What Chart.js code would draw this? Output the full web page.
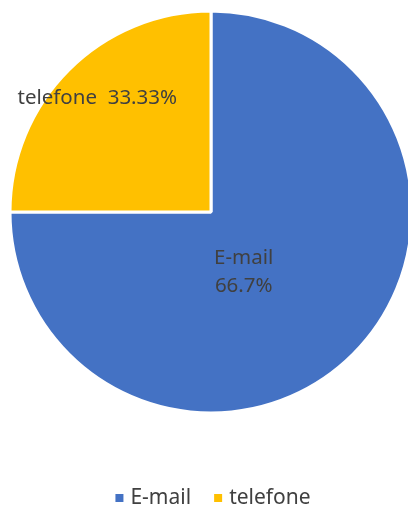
<!DOCTYPE html>
<html>
<head>
<meta charset="utf-8">
<script src="https://cdn.jsdelivr.net/npm/chart.js@4.4.0/dist/chart.umd.min.js"></script>
<style>
  html, body { margin: 0; padding: 0; background: #fff; }
  #wrap { width: 408px; height: 510px; }
</style>
</head>
<body>
<div id="wrap"><canvas id="myChart" width="408" height="510"></canvas></div>
<script>
"use strict";

// data
var categories = ["E-mail", "telefone"];
var values = [3, 1];
var pctLabels = ["66.7%", "33.33%"];
var colors = ["#4472C4", "#FFC000"];

var FONT = "'Noto Sans', sans-serif";
var TEXT = "#404040";

// slice labels, drawn on top of the arcs
var sliceLabels = {
    id: "sliceLabels",
    afterDatasetsDraw: function (chart) {
        var ctx = chart.ctx;
        var arcs = chart.getDatasetMeta(0).data;
        ctx.save();
        ctx.fillStyle = TEXT;
        ctx.font = "20.5px " + FONT;
        ctx.textAlign = "center";
        ctx.textBaseline = "middle";
        arcs.forEach(function (arc, i) {
            var mid = (arc.startAngle + arc.endAngle) / 2;
            if (i === 0) {
                // best-fit style: two lines, near the center
                var r = arc.outerRadius * 0.35;
                var x = arc.x + Math.cos(mid) * r - 17;
                var y = arc.y + Math.sin(mid) * r + 10;
                ctx.fillText(categories[i], x, y - 14);
                ctx.fillText(pctLabels[i], x, y + 14);
            } else {
                var r2 = arc.outerRadius * 0.8;
                var x2 = arc.x + Math.cos(mid) * r2;
                var y2 = arc.y + Math.sin(mid) * r2;
                ctx.fillText(categories[i] + "  " + pctLabels[i], x2, y2);
            }
        });
        ctx.restore();
    }
};

// legend at the bottom
var bottomLegend = {
    id: "bottomLegend",
    afterDraw: function (chart) {
        var ctx = chart.ctx;
        ctx.save();
        ctx.font = "21px " + FONT;
        ctx.textBaseline = "middle";
        var box = 8, gap = 7, spacing = 23;
        var total = 0;
        categories.forEach(function (c, i) {
            total += box + gap + ctx.measureText(c).width;
            if (i < categories.length - 1) total += spacing;
        });
        var x = (chart.width - total) / 2 + 9;
        var y = 498;
        categories.forEach(function (c, i) {
            ctx.fillStyle = colors[i];
            ctx.fillRect(x, y - box / 2, box, box);
            x += box + gap;
            ctx.fillStyle = TEXT;
            ctx.fillText(c, x, y);
            x += ctx.measureText(c).width + spacing;
        });
        ctx.restore();
    }
};

var ctx = document.getElementById("myChart").getContext("2d");
var chart = new Chart(ctx, {
    type: "pie",
    data: {
        labels: categories,
        datasets: [{
            data: values,
            backgroundColor: colors,
            borderColor: "#ffffff",
            borderWidth: 3,
            radius: 201
        }]
    },
    options: {
        responsive: false,
        animation: false,
        layout: { padding: { top: 11, left: 14, right: 0, bottom: 97 } },
        plugins: {
            legend: { display: false },
            tooltip: { enabled: false }
        }
    },
    plugins: [sliceLabels, bottomLegend]
});
</script>
</body>
</html>
